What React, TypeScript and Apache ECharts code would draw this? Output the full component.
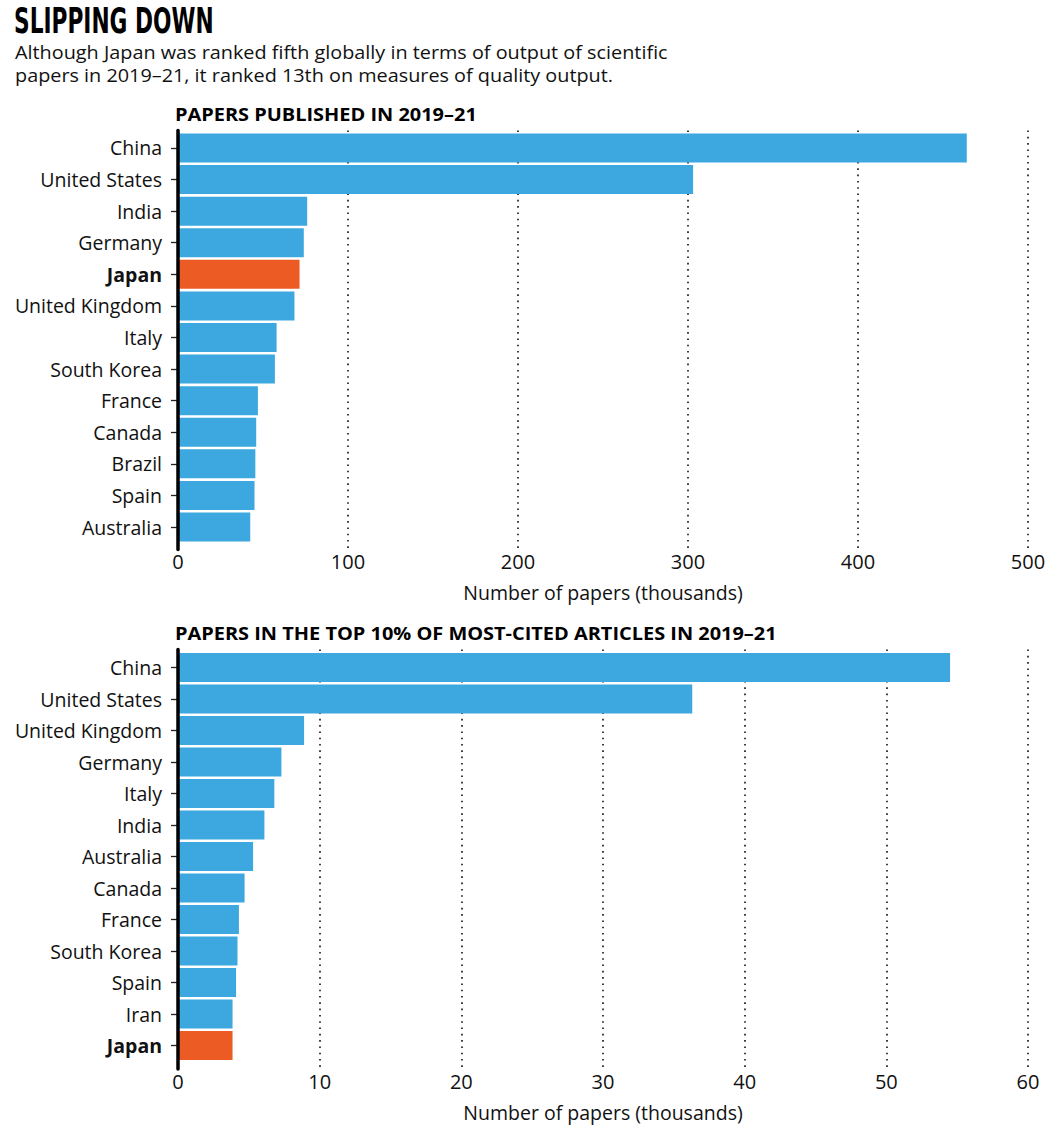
import React, { useEffect, useRef } from "react";
import * as echarts from "echarts";

const titleText = "SLIPPING DOWN";
const subtitleLines = [
  "Although Japan was ranked fifth globally in terms of output of scientific",
  "papers in 2019–21, it ranked 13th on measures of quality output.",
];
const topHeader = "PAPERS PUBLISHED IN 2019–21";
const citedHeader = "PAPERS IN THE TOP 10% OF MOST-CITED ARTICLES IN 2019–21";
const axisName = "Number of papers (thousands)";
const highlight = "Japan";

const topCategories = [
  "China", "United States", "India", "Germany", "Japan", "United Kingdom", "Italy",
  "South Korea", "France", "Canada", "Brazil", "Spain", "Australia",
];
const topValues = [464, 303, 76, 74, 71.5, 68.5, 58, 57, 47, 46, 45.5, 45, 42.5];
const topTicks = { min: 0, max: 500, interval: 100 };

const citedCategories = [
  "China", "United States", "United Kingdom", "Germany", "Italy", "India", "Australia",
  "Canada", "France", "South Korea", "Spain", "Iran", "Japan",
];
const citedValues = [54.5, 36.3, 8.9, 7.3, 6.8, 6.1, 5.3, 4.7, 4.3, 4.2, 4.1, 3.85, 3.85];
const citedTicks = { min: 0, max: 60, interval: 10 };

const BLUE = "#3DA8DF";
const ORANGE = "#EC5B24";
const INK = "#111111";
const FONT = "'Open Sans', Roboto, sans-serif";
const COND = "'DejaVu Sans Condensed', 'DejaVu Sans', sans-serif";

function buildData(cats: string[], vals: number[]) {
  return vals.map((v, i) => ({
    value: v,
    itemStyle: { color: cats[i] === highlight ? ORANGE : BLUE },
  }));
}

export default function App() {
  const ref = useRef<HTMLDivElement>(null);
  useEffect(() => {
    if (!ref.current) return;
    const chart = echarts.init(ref.current, undefined, { renderer: "svg" });
    const LEFT = 178;
    const WIDTH = 850;
    const frames = [
      { top: 130.5, height: 419 },
      { top: 649.5, height: 419.5 },
    ];
    const datas = [
      { top: 132.2, height: 410.6 },
      { top: 651.75, height: 409.5 },
    ];
    const ticks = [topTicks, citedTicks];
    const cats = [topCategories, citedCategories];

    const grid: any[] = [];
    const xAxis: any[] = [];
    const yAxis: any[] = [];
    frames.forEach((f) => {
      grid.push({ left: LEFT, width: WIDTH, top: f.top, height: f.height, containLabel: false });
    });
    datas.forEach((d) => {
      grid.push({ left: LEFT, width: WIDTH, top: d.top, height: d.height, containLabel: false });
    });
    frames.forEach((f, k) => {
      xAxis.push({
        type: "value",
        gridIndex: k,
        min: ticks[k].min,
        max: ticks[k].max,
        interval: ticks[k].interval,
        axisLine: { show: false },
        axisTick: { show: false },
        axisLabel: { color: INK, fontFamily: FONT, fontSize: 20, margin: 2 },
        splitLine: {
          show: true,
          lineStyle: { color: "#111", width: 1.6, type: [1.6, 4.7] },
        },
        name: axisName,
        nameLocation: "middle",
        nameGap: 33,
        nameTextStyle: { color: INK, fontFamily: FONT, fontSize: 19.5 },
      });
      yAxis.push({
        type: "category",
        gridIndex: k,
        data: cats[k],
        inverse: true,
        axisLine: { show: true, lineStyle: { color: "#000", width: 3.5 } },
        axisTick: { show: false },
        axisLabel: { show: false },
        splitLine: { show: false },
        z: 10,
      });
    });
    datas.forEach((d, k) => {
      xAxis.push({
        type: "value",
        gridIndex: 2 + k,
        min: ticks[k].min,
        max: ticks[k].max,
        interval: ticks[k].interval,
        show: false,
        splitLine: { show: false },
      });
      yAxis.push({
        type: "category",
        gridIndex: 2 + k,
        data: cats[k],
        inverse: true,
        axisLine: { show: false },
        axisTick: {
          show: true,
          alignWithLabel: true,
          length: 7,
          lineStyle: { color: "#222", width: 1.3 },
        },
        axisLabel: {
          margin: 16,
          color: INK,
          fontFamily: FONT,
          fontSize: 19.5,
          formatter: (v: string) => (v === highlight ? `{b|${v}}` : v),
          rich: {
            b: { fontWeight: "bold", color: INK, fontFamily: FONT, fontSize: 19.5 },
          },
        },
        splitLine: { show: false },
      });
    });

    const series = [
      {
        type: "bar",
        xAxisIndex: 2,
        yAxisIndex: 2,
        data: buildData(topCategories, topValues),
        barCategoryGap: "8%",
      },
      {
        type: "bar",
        xAxisIndex: 3,
        yAxisIndex: 3,
        data: buildData(citedCategories, citedValues),
        barCategoryGap: "8%",
      },
    ];

    chart.setOption({
      animation: false,
      backgroundColor: "#ffffff",
      grid,
      xAxis,
      yAxis,
      series,
      graphic: [
        {
          type: "text",
          x: 14,
          y: 3,
          scaleX: 0.69,
          style: {
            text: titleText,
            fill: "#000",
            font: `bold 35px ${COND}`,
          },
        },
        {
          type: "text",
          x: 15,
          y: 42,
          scaleX: 1.055,
          style: {
            text: subtitleLines[0],
            fill: INK,
            fontFamily: FONT,
            fontSize: 18.8,
          },
        },
        {
          type: "text",
          x: 15,
          y: 65,
          scaleX: 1.055,
          style: {
            text: subtitleLines[1],
            fill: INK,
            fontFamily: FONT,
            fontSize: 18.8,
          },
        },
        {
          type: "text",
          x: 175,
          y: 105,
          scaleX: 1.14,
          style: { text: topHeader, fill: "#000", fontFamily: FONT, fontWeight: "bold", fontSize: 17.5 },
        },
        {
          type: "text",
          x: 175,
          y: 624,
          scaleX: 1.14,
          style: { text: citedHeader, fill: "#000", fontFamily: FONT, fontWeight: "bold", fontSize: 17.5 },
        },
      ],
    });
    return () => chart.dispose();
  }, []);
  return (
    <div
      ref={ref}
      style={{ position: "absolute", left: 0, top: 0, width: 1057, height: 1129 }}
    />
  );
}
